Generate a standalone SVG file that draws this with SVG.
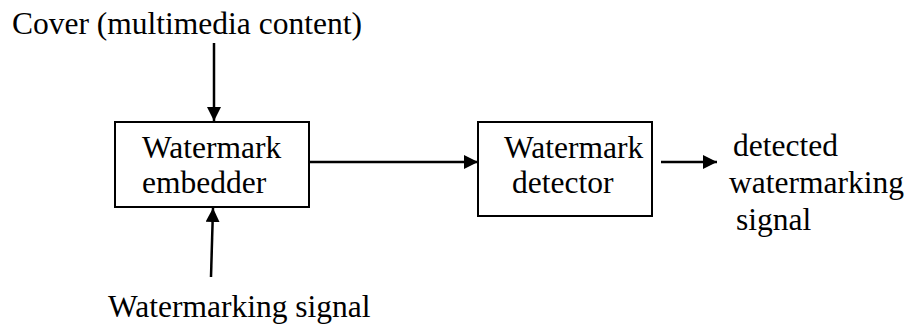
<svg xmlns="http://www.w3.org/2000/svg" width="907" height="325" viewBox="0 0 907 325">
<style>
.t{font-family:'Liberation Serif','Times New Roman',Times,serif;font-size:31.5px;fill:#000}
.box{fill:#fff;stroke:#000;stroke-width:2}
.c{stroke:#000;stroke-width:2.5;fill:none}
</style>
<defs>
<marker id="ah" viewBox="0 0 10 10" refX="10" refY="5" markerWidth="5.6" markerHeight="5.6" markerUnits="strokeWidth" orient="auto">
<path d="M0,0 L10,5 L0,10 Z" fill="#000"/>
</marker>
</defs>
<rect width="907" height="325" fill="#fff"/>
<g id="connectors">
<line class="c" x1="214" y1="43" x2="214" y2="121" marker-end="url(#ah)"/>
<line class="c" x1="211" y1="277" x2="213" y2="208" marker-end="url(#ah)"/>
<line class="c" x1="309" y1="162" x2="478" y2="162" marker-end="url(#ah)"/>
<line class="c" x1="661" y1="162" x2="717" y2="162" marker-end="url(#ah)"/>
</g>
<g class="t">
<g id="cover"><text x="12" y="34">Cover (multimedia content)</text></g>
<g id="embedder">
<rect class="box" x="115" y="122" width="194" height="85"/>
<text x="142" y="158">Watermark</text>
<text x="142" y="193">embedder</text>
</g>
<g id="detector">
<rect class="box" x="478" y="122" width="174" height="94"/>
<text x="504" y="158">Watermark</text>
<text x="512" y="193">detector</text>
</g>
<g id="output">
<text x="733" y="156">detected</text>
<text x="729" y="193">watermarking</text>
<text x="736" y="230">signal</text>
</g>
<g id="signal"><text x="108" y="317">Watermarking signal</text></g>
</g>
</svg>
